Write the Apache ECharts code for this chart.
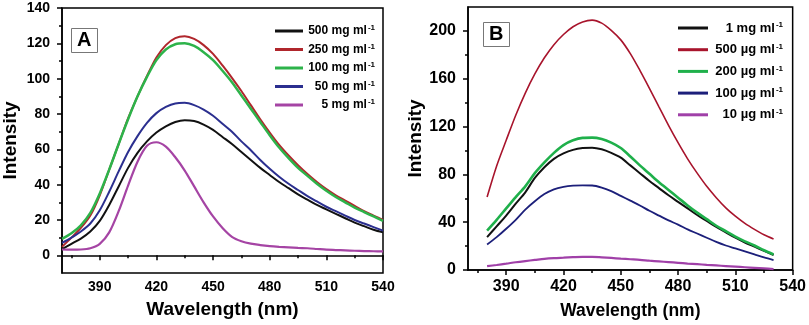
<!DOCTYPE html>
<html>
<head>
<meta charset="utf-8">
<script src="https://cdn.jsdelivr.net/npm/echarts@6/dist/echarts.min.js"></script>
<style>
html,body{margin:0;padding:0;background:#fff;}
#c{width:809px;height:325px;}
</style>
</head>
<body>
<div id="c"></div>
<script>
// ---------- Panel A data (5 nm steps, 370-540 nm) ----------
const wavelengthA = [370,375,380,385,390,395,400,405,410,415,420,425,430,435,440,445,450,455,460,465,470,475,480,485,490,495,500,505,510,515,520,525,530,535,540];
const namesA = ['500 mg ml-1','250 mg ml-1','100 mg ml-1','50 mg ml-1','5 mg ml-1'];
const a500 = [3.5,6.5,9.5,13.5,19.5,28.5,39,49.5,58,64.5,69.5,73,75.5,76.5,76,74,71,67,63,58.5,54,49.5,45.5,41.5,38,34.5,31.5,28.5,26,23.5,21,18.5,16.5,14.5,13];
const a250 = [4.8,10,15.5,22.5,34,48.5,63,77.5,90,101.5,112,119,123,124,122.5,119,114,107.5,100.5,93,85,77,69.5,62.5,56.5,51,46,41.5,37.5,34,31,28,25,22.5,20];
const a100 = [9.3,12.5,17,24,35,48.5,63,77,90,101,110.5,116.5,119.5,120,118.5,115,110.5,104.5,98,90.5,83,75.5,68,61,55,49.5,45,40.5,36.5,33,30,27,24.5,22,19.5];
const a50  = [7,10,13.5,18,25.5,36,47.5,58.5,67.5,75,80.5,84,86,86.3,85,82.5,79,74.5,70,64.5,59.5,54,49,44.5,40.5,37,33.5,30.5,27.5,25,22.5,20,18,16,14];
const a5   = [3.3,3.2,3.3,4,6.5,13,25,39.5,53,62,64,61.5,55.5,48,39,30,22,15.5,10.5,8,6.6,5.8,5.2,4.8,4.5,4.2,4,3.6,3.2,3,2.8,2.6,2.4,2.3,2.2];
const colorsA = ['#111111','#b0262c','#2db34a','#2b2f8f','#a544a4'];
const xMajorA = [390,420,450,480,510,540];
const xMinorA = [375,405,435,465,495,525];
const yMajorA = [0,20,40,60,80,100,120,140];
const yMinorA = [10,30,50,70,90,110,130];

// ---------- Panel B data (5 nm steps, 380-530 nm) ----------
const wavelengthB = [380,385,390,395,400,405,410,415,420,425,430,435,440,445,450,455,460,465,470,475,480,485,490,495,500,505,510,515,520,525,530];
const namesB = ['1 mg ml-1','500 µg ml-1','200 µg ml-1','100 µg ml-1','10 µg ml-1'];
const b1mg = [27.5,36.5,45.5,55.5,65,77,86,93,97.5,100.5,102,102.3,101,98,94,87.5,81,74.5,68.5,62.5,57,51.5,46,41,36,31.5,27,23,19.5,16,12.5];
const b500 = [61,87,108.5,129.5,148,164,177.5,188.5,197,203.5,207.5,209,206.5,200.5,192.5,181,167,152,136.5,121,106.5,93,81,70,60.5,52,45,39,34,29.5,26];
const b200 = [33,42,51.5,61,70,81,90,98,104.5,108.5,110.5,110.7,109.5,106.5,102,95,87.5,80.5,73.5,67,60.5,54,48,42.5,37,32.5,28,24,20.5,16.5,13];
const b100 = [21.3,27.5,34.5,42,50.5,57.5,63.5,67.5,69.5,70.5,70.8,70.7,69,66,62,58,54,49.5,45.5,41.5,38,34,30.5,27,23.5,20.5,18,15.5,13,10.5,8.3];
const b10  = [3.2,4.2,5.3,6.5,7.5,8.4,9.3,9.9,10.3,10.7,11,11,10.6,10.1,9.5,9,8.5,7.8,7.2,6.6,6,5.4,4.9,4.3,3.8,3.3,2.8,2.3,1.8,1.3,0.8];
const colorsB = ['#111111','#a8142c','#1fb04b','#1c1f7a','#a040a8'];
const xMajorB = [390,420,450,480,510,540];
const xMinorB = [375,405,435,465,495,525];
const yMajorB = [0,40,80,120,160,200];
const yMinorB = [20,60,100,140,180];

const FONT = '"Liberation Sans", Arial, sans-serif';

function pairs(xs, ys){ return xs.map((x,i)=>[x, ys[i]]); }
function legendFmt(name){
  const m = name.match(/^(.*?)(-1)$/);
  return '{t|' + m[1] + '}{s|' + m[2] + '}';
}
function legendText(fs, w){
  return {
    width: w, padding: [0, 0, 0, 3],
    rich: {
      t: {fontSize: fs, fontWeight: 'bold', fontFamily: FONT, color: '#000', align: 'right', lineHeight: 14},
      s: {fontSize: 8, fontWeight: 'bold', fontFamily: FONT, color: '#000', align: 'right', lineHeight: 8, verticalAlign: 'top', padding: [0,0,0,1]}
    }
  };
}
function majorX(grid, majors, fs, margin, nameGap, nameSize){
  return {
    type: 'value', gridIndex: grid, min: 370, max: 540, position: 'bottom',
    name: 'Wavelength (nm)', nameLocation: 'middle', nameGap: nameGap,
    nameTextStyle: {fontSize: nameSize, fontWeight: 'bold', fontFamily: FONT, color: '#000'},
    axisLine: {show: true, lineStyle: {color: '#000', width: 1.5}},
    axisTick: {show: true, inside: false, length: 5, lineStyle: {color: '#000', width: 1.5}, customValues: majors},
    axisLabel: {show: true, margin: margin, fontSize: fs, fontWeight: 'bold', fontFamily: FONT, color: '#000', customValues: majors},
    splitLine: {show: false}
  };
}
function minorX(grid, minors){
  return {
    type: 'value', gridIndex: grid, min: 370, max: 540, position: 'bottom',
    axisLine: {show: false},
    axisTick: {show: true, inside: false, length: 3, lineStyle: {color: '#000', width: 1.5}, customValues: minors},
    axisLabel: {show: false},
    splitLine: {show: false}
  };
}
function majorY(grid, min, max, majors, fs, margin, nameGap){
  return {
    type: 'value', gridIndex: grid, min: min, max: max, position: 'left',
    name: 'Intensity', nameLocation: 'middle', nameGap: nameGap,
    nameTextStyle: {fontSize: 19, fontWeight: 'bold', fontFamily: FONT, color: '#000'},
    axisLine: {show: true, lineStyle: {color: '#000', width: 1.5}},
    axisTick: {show: true, inside: false, length: 5, lineStyle: {color: '#000', width: 1.5}, customValues: majors},
    axisLabel: {show: true, margin: margin, fontSize: fs, fontWeight: 'bold', fontFamily: FONT, color: '#000', customValues: majors},
    splitLine: {show: false}
  };
}
function minorY(grid, min, max, minors){
  return {
    type: 'value', gridIndex: grid, min: min, max: max, position: 'left',
    axisLine: {show: false},
    axisTick: {show: true, inside: false, length: 3, lineStyle: {color: '#000', width: 1.5}, customValues: minors},
    axisLabel: {show: false},
    splitLine: {show: false}
  };
}
function lineSeries(name, xs, ys, color, xi, yi, width){
  return {
    type: 'line', name: name, xAxisIndex: xi, yAxisIndex: yi,
    data: pairs(xs, ys), smooth: 0.3, showSymbol: false, symbol: 'none',
    lineStyle: {color: color, width: width}, itemStyle: {color: color},
    emphasis: {disabled: true}, animation: false
  };
}

const seriesValsA = [a500, a250, a100, a50, a5];
const seriesValsB = [b1mg, b500, b200, b100, b10];
const widthsA = [2, 2, 2.5, 2, 2.2];
const widthsB = [2, 1.6, 2.6, 1.8, 2.2];

const series = [];
namesA.forEach((n,i)=>series.push(lineSeries(n, wavelengthA, seriesValsA[i], colorsA[i], 0, 0, widthsA[i])));
namesB.forEach((n,i)=>series.push(lineSeries(n, wavelengthB, seriesValsB[i], colorsB[i], 2, 2, widthsB[i])));

const option = {
  animation: false,
  backgroundColor: '#fff',
  grid: [
    {left: 60, right: 426, top: 8, bottom: 52, show: true, borderColor: '#000', borderWidth: 1.5, backgroundColor: 'transparent'},
    {left: 468, right: 16, top: 7, bottom: 55, show: true, borderColor: '#000', borderWidth: 1.5, backgroundColor: 'transparent'}
  ],
  title: [
    {text: 'A', left: 71, top: 28, padding: [2, 6, 2, 6], borderColor: '#777', borderWidth: 1,
     textStyle: {fontSize: 20, fontWeight: 'bold', fontFamily: FONT, color: '#000', lineHeight: 21}},
    {text: 'B', left: 483, top: 22, padding: [2, 6, 2, 6], borderColor: '#777', borderWidth: 1,
     textStyle: {fontSize: 20, fontWeight: 'bold', fontFamily: FONT, color: '#000', lineHeight: 21}}
  ],
  legend: [
    {data: namesA, orient: 'vertical', left: 270, top: 19, itemWidth: 28, itemHeight: 3, itemGap: 5.5,
     icon: 'rect', formatter: legendFmt, selectedMode: false,
     textStyle: legendText(12, 64)},
    {data: namesB, orient: 'vertical', left: 673, top: 16, itemWidth: 30, itemHeight: 3, itemGap: 8.2,
     icon: 'rect', formatter: legendFmt, selectedMode: false,
     textStyle: legendText(13, 67)}
  ],
  xAxis: [
    majorX(0, xMajorA, 14, 7, 27, 19),
    minorX(0, xMinorA),
    majorX(1, xMajorB, 16, 9, 32, 17.5),
    minorX(1, xMinorB)
  ],
  yAxis: [
    majorY(0, -10, 140, yMajorA, 14, 12, 42),
    minorY(0, -10, 140, yMinorA),
    majorY(1, 0, 220, yMajorB, 16, 12, 42),
    minorY(1, 0, 220, yMinorB)
  ],
  series: series
};

const chart = echarts.init(document.getElementById('c'), null, {renderer: 'canvas'});
chart.setOption(option);
</script>
</body>
</html>
